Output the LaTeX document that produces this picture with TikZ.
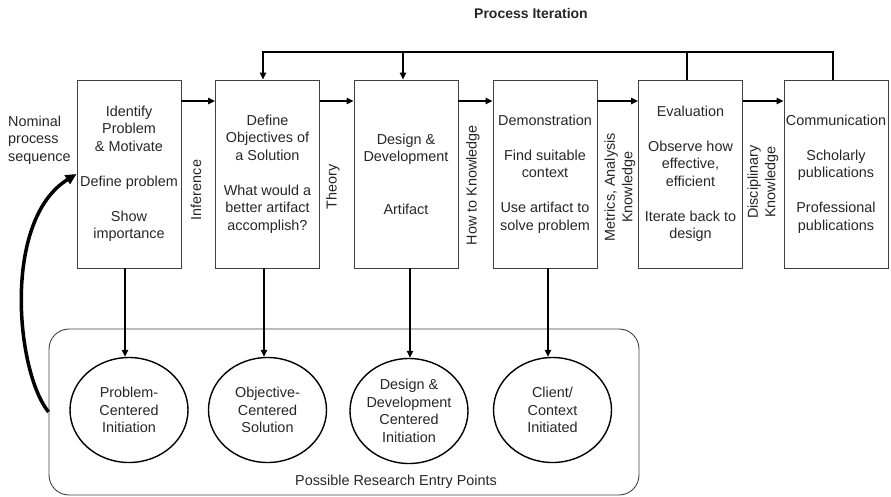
\documentclass[tikz,border=0pt]{standalone}
\usepackage{fontspec}
\setmainfont{Liberation Sans}
\usetikzlibrary{arrows.meta,shapes.geometric,calc}
\begin{document}
\begin{tikzpicture}[x=1pt,y=-1pt,line join=miter,
  txt/.style={font=\fontsize{14.4}{17.5}\selectfont, text=black!85},
  stage/.style={txt, draw=black!75, line width=0.9pt, minimum width=104pt,
    minimum height=188pt, inner sep=1pt, align=center},
  entry/.style={txt, ellipse, draw=black, line width=1.4pt, minimum width=118pt,
    minimum height=105pt, inner sep=-6pt, align=center},
  flow/.style={line width=1.4pt, -{Triangle[length=7pt,width=6.5pt]}},
  side/.style={txt, rotate=90, align=center, inner sep=0pt},
]
\useasboundingbox (0,0) rectangle (891,496);

% title
\node[font=\bfseries\fontsize{14}{17}\selectfont, text=black!85] (title) at (531,13) {Process Iteration};

% process stages
\node[stage] (b1) at (129,174) {Identify\\Problem\\\& Motivate\\[17.5pt]Define problem\\[17.5pt]Show\\importance};
\node[stage] (b2) at (267.5,174) {Define\\Objectives of\\a Solution\\[17.5pt]What would a\\better artifact\\accomplish?};
\node[stage] (b3) at (406,174) {Design \&\\Development\\[35pt]Artifact};
\node[stage] (b4) at (545,174) {Demonstration\\[17.5pt]Find suitable\\context\\[17.5pt]Use artifact to\\solve problem};
\node[stage] (b5) at (690.5,174) {Evaluation\\[17.5pt]Observe how\\effective,\\efficient\\[17.5pt]Iterate back to\\design};
\node[stage] (b6) at (836,174) {Communication\\[17.5pt]Scholarly\\publications\\[17.5pt]Professional\\publications};

% knowledge labels between stages
\node[side] (l1) at (196,190) {Inference};
\node[side] (l2) at (333,187) {Theory};
\node[side] (l3) at (473,185) {How to Knowledge};
\node[side] (l4) at (620,187) {Metrics, Analysis\\Knowledge};
\node[side] (l5) at (763,182) {Disciplinary\\Knowledge};

% left label
\node[txt, align=left, anchor=west, inner sep=0pt] (nom) at (8,140) {Nominal\\process\\sequence};

% entry points zone
\node[draw=black!75, line width=0.9pt, rounded corners=20pt, minimum width=590pt,
  minimum height=166pt] (zone) at (344,412) {};
\node[txt] (zlabel) at (396,482) {Possible Research Entry Points};

\node[entry] (e1) at (129,410) {Problem-\\Centered\\Initiation};
\node[entry] (e2) at (267.5,410) {Objective-\\Centered\\Solution};
\node[entry] (e3) at (409,411) {Design \&\\Development\\Centered\\Initiation};
\node[entry] (e4) at (552.5,410) {Client/\\Context\\Initiated};

% nominal sequence
\coordinate (fy) at (0,101);
\draw[flow] (b1.east |- fy) -- (b2.west |- fy);
\draw[flow] (b2.east |- fy) -- (b3.west |- fy);
\draw[flow] (b3.east |- fy) -- (b4.west |- fy);
\draw[flow] (b4.east |- fy) -- (b5.west |- fy);
\draw[flow] (b5.east |- fy) -- (b6.west |- fy);

% iteration loop
\coordinate (loop) at (0,52);
\draw[flow] ([xshift=-3pt]b6.north) -- ([xshift=-3pt]b6.north |- loop)
  -- ([xshift=-4.5pt]b2.north |- loop) -- ([xshift=-4.5pt]b2.north);
\draw[line width=1.4pt] ([xshift=-3.5pt]b5.north) -- ([xshift=-3.5pt]b5.north |- loop);
\draw[flow] ([xshift=-3pt]b3.north |- loop) -- ([xshift=-3pt]b3.north);

% entry arrows
\draw[flow] ([xshift=-4pt]b1.south) -- ([xshift=-4pt]b1.south |- e1.north);
\draw[flow] ([xshift=-3.5pt]b2.south) -- ([xshift=-3.5pt]b2.south |- e2.north);
\draw[flow] ([xshift=4pt]b3.south) -- ([xshift=4pt]b3.south |- e3.north);
\draw[flow] ([xshift=3pt]b4.south) -- ([xshift=3pt]b4.south |- e4.north);

% return from entry points
\draw[line width=3.5pt, -{Triangle[length=11pt,width=10pt]}]
  (zone.west) .. controls (16,372) and (2,220) .. (b1.west);
\end{tikzpicture}
\end{document}
